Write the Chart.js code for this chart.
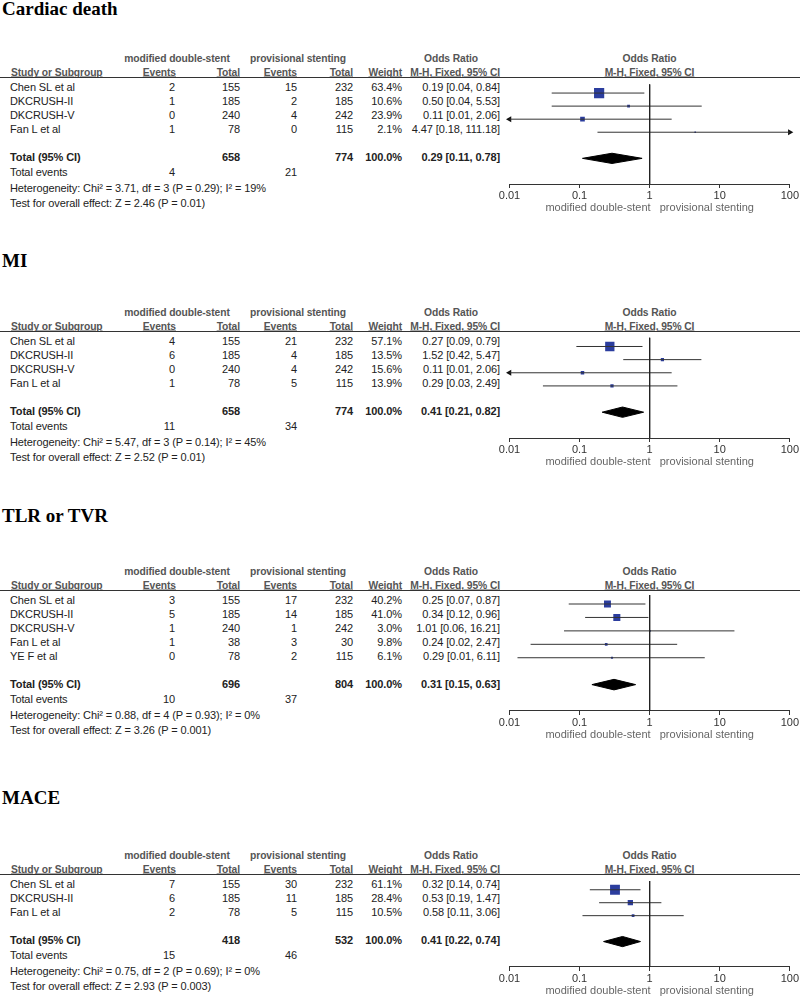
<!DOCTYPE html>
<html>
<head>
<meta charset="utf-8">
<script src="https://cdn.jsdelivr.net/npm/chart.js@4.4.0/dist/chart.umd.min.js"></script>
<style>
  html, body { margin: 0; padding: 0; background: #fff; }
  #page { position: relative; width: 800px; height: 997px; overflow: hidden;
          font-family: "Liberation Sans", Arial, sans-serif; font-size: 11px; color: #222; }
  .t { position: absolute; white-space: pre; line-height: 13px; letter-spacing: -0.1px; }
  .title { font-family: "Liberation Serif", "Times New Roman", serif; font-weight: bold;
           font-size: 19px; line-height: 22px; color: #000; letter-spacing: 0; }
  .hd { font-weight: bold; color: #555; font-size: 10.3px; }
  .u { text-decoration: underline; }
  .b { font-weight: bold; }
  .rule { position: absolute; left: 0; width: 800px; height: 1px; background: #333; }
  canvas { position: absolute; }
</style>
</head>
<body>
<div id="page"></div>
<script>
// ---- data ----
const oddsTicks = [0.01, 0.1, 1, 10, 100];

const cardiacStudies = ['Chen SL et al', 'DKCRUSH-II', 'DKCRUSH-V', 'Fan L et al'];
const cardiacEvents1 = [2, 1, 0, 1];
const cardiacTotal1 = [155, 185, 240, 78];
const cardiacEvents2 = [15, 2, 4, 0];
const cardiacTotal2 = [232, 185, 242, 115];
const cardiacWeight = [63.4, 10.6, 23.9, 2.1];
const cardiacOR = [0.19, 0.50, 0.11, 4.47];
const cardiacLow = [0.04, 0.04, 0.006, 0.18];
const cardiacHigh = [0.84, 5.53, 2.06, 111.18];
const cardiacPooled = [0.29, 0.11, 0.78];
const cardiacHet = 'Heterogeneity: Chi\u00b2 = 3.71, df = 3 (P = 0.29); I\u00b2 = 19%';
const cardiacTest = 'Test for overall effect: Z = 2.46 (P = 0.01)';

const miStudies = ['Chen SL et al', 'DKCRUSH-II', 'DKCRUSH-V', 'Fan L et al'];
const miEvents1 = [4, 6, 0, 1];
const miTotal1 = [155, 185, 240, 78];
const miEvents2 = [21, 4, 4, 5];
const miTotal2 = [232, 185, 242, 115];
const miWeight = [57.1, 13.5, 15.6, 13.9];
const miOR = [0.27, 1.52, 0.11, 0.29];
const miLow = [0.09, 0.42, 0.006, 0.03];
const miHigh = [0.79, 5.47, 2.06, 2.49];
const miPooled = [0.41, 0.21, 0.82];
const miHet = 'Heterogeneity: Chi\u00b2 = 5.47, df = 3 (P = 0.14); I\u00b2 = 45%';
const miTest = 'Test for overall effect: Z = 2.52 (P = 0.01)';

const tlrStudies = ['Chen SL et al', 'DKCRUSH-II', 'DKCRUSH-V', 'Fan L et al', 'YE F et al'];
const tlrEvents1 = [3, 5, 1, 1, 0];
const tlrTotal1 = [155, 185, 240, 38, 78];
const tlrEvents2 = [17, 14, 1, 3, 2];
const tlrTotal2 = [232, 185, 242, 30, 115];
const tlrWeight = [40.2, 41.0, 3.0, 9.8, 6.1];
const tlrOR = [0.25, 0.34, 1.01, 0.24, 0.29];
const tlrLow = [0.07, 0.12, 0.06, 0.02, 0.013];
const tlrHigh = [0.87, 0.96, 16.21, 2.47, 6.11];
const tlrPooled = [0.31, 0.15, 0.63];
const tlrHet = 'Heterogeneity: Chi\u00b2 = 0.88, df = 4 (P = 0.93); I\u00b2 = 0%';
const tlrTest = 'Test for overall effect: Z = 3.26 (P = 0.001)';

const maceStudies = ['Chen SL et al', 'DKCRUSH-II', 'Fan L et al'];
const maceEvents1 = [7, 6, 2];
const maceTotal1 = [155, 185, 78];
const maceEvents2 = [30, 11, 5];
const maceTotal2 = [232, 185, 115];
const maceWeight = [61.1, 28.4, 10.5];
const maceOR = [0.32, 0.53, 0.58];
const maceLow = [0.14, 0.19, 0.11];
const maceHigh = [0.74, 1.47, 3.06];
const macePooled = [0.41, 0.22, 0.74];
const maceHet = 'Heterogeneity: Chi\u00b2 = 0.75, df = 2 (P = 0.69); I\u00b2 = 0%';
const maceTest = 'Test for overall effect: Z = 2.93 (P = 0.003)';

const panels = [
  {title: 'Cardiac death', titleY: 9, lineY: 77, studies: cardiacStudies, ev1: cardiacEvents1, tot1: cardiacTotal1,
   ev2: cardiacEvents2, tot2: cardiacTotal2, weight: cardiacWeight, or: cardiacOR, lo: cardiacLow, hi: cardiacHigh,
   pooled: cardiacPooled, het: cardiacHet, test: cardiacTest},
  {title: 'MI', titleY: 261, lineY: 331, studies: miStudies, ev1: miEvents1, tot1: miTotal1,
   ev2: miEvents2, tot2: miTotal2, weight: miWeight, or: miOR, lo: miLow, hi: miHigh,
   pooled: miPooled, het: miHet, test: miTest},
  {title: 'TLR or TVR', titleY: 516, lineY: 590, studies: tlrStudies, ev1: tlrEvents1, tot1: tlrTotal1,
   ev2: tlrEvents2, tot2: tlrTotal2, weight: tlrWeight, or: tlrOR, lo: tlrLow, hi: tlrHigh,
   pooled: tlrPooled, het: tlrHet, test: tlrTest},
  {title: 'MACE', titleY: 798, lineY: 874, studies: maceStudies, ev1: maceEvents1, tot1: maceTotal1,
   ev2: maceEvents2, tot2: maceTotal2, weight: maceWeight, or: maceOR, lo: maceLow, hi: maceHigh,
   pooled: macePooled, het: maceHet, test: maceTest}
];

// ---- layout ----
const page = document.getElementById('page');
const ROW = 14;
const xMin = 0.01, xMax = 100;
const FONT = '"Liberation Sans", Arial, sans-serif';

function txt(s, x, y, align, cls) {
  const d = document.createElement('div');
  d.className = 't ' + (cls || '');
  d.textContent = s;
  d.style.left = x + 'px';
  d.style.top = y + 'px';
  const tx = align === 'right' ? '-100%' : align === 'center' ? '-50%' : '0';
  d.style.transform = 'translate(' + tx + ', -50%)';
  page.appendChild(d);
}

function ciText(or, lo, hi) {
  return or.toFixed(2) + ' [' + lo.toFixed(2) + ', ' + hi.toFixed(2) + ']';
}

function sum(arr) {
  return arr.reduce((a, b) => a + b, 0);
}

function drawPanel(p) {
  const n = p.studies.length;
  const L = p.lineY;

  txt(p.title, 2, p.titleY, 'left', 'title');

  // headers
  txt('modified double-stent', 177, L - 19, 'center', 'hd');
  txt('provisional stenting', 298, L - 19, 'center', 'hd');
  txt('Odds Ratio', 451, L - 19, 'center', 'hd');
  txt('Odds Ratio', 649.5, L - 19, 'center', 'hd');
  txt('Study or Subgroup', 11, L - 5, 'left', 'hd u');
  txt('Events', 176, L - 5, 'right', 'hd u');
  txt('Total', 240, L - 5, 'right', 'hd u');
  txt('Events', 297, L - 5, 'right', 'hd u');
  txt('Total', 353, L - 5, 'right', 'hd u');
  txt('Weight', 402, L - 5, 'right', 'hd u');
  txt('M-H, Fixed, 95% CI', 500, L - 5, 'right', 'hd u');
  txt('M-H, Fixed, 95% CI', 649.5, L - 5, 'center', 'hd u');

  const rule = document.createElement('div');
  rule.className = 'rule';
  rule.style.top = L + 'px';
  page.appendChild(rule);

  // study rows
  for (let i = 0; i < n; i++) {
    const y = L + 9.5 + ROW * i;
    txt(p.studies[i], 10, y, 'left');
    txt(String(p.ev1[i]), 175, y, 'right');
    txt(String(p.tot1[i]), 240, y, 'right');
    txt(String(p.ev2[i]), 297, y, 'right');
    txt(String(p.tot2[i]), 353, y, 'right');
    txt(p.weight[i].toFixed(1) + '%', 402, y, 'right');
    txt(ciText(p.or[i], p.lo[i], p.hi[i]), 500, y, 'right');
  }

  const totY = L + 9.5 + ROW * (n + 1);
  txt('Total (95% CI)', 10, totY, 'left', 'b');
  txt(String(sum(p.tot1)), 240, totY, 'right', 'b');
  txt(String(sum(p.tot2)), 353, totY, 'right', 'b');
  txt('100.0%', 402, totY, 'right', 'b');
  txt(ciText(p.pooled[0], p.pooled[1], p.pooled[2]), 500, totY, 'right', 'b');
  txt('Total events', 10, totY + 15.5, 'left');
  txt(String(sum(p.ev1)), 175, totY + 15.5, 'right');
  txt(String(sum(p.ev2)), 297, totY + 15.5, 'right');
  txt(p.het, 10, totY + 31, 'left');
  txt(p.test, 10, totY + 46.5, 'left');

  // chart (rows are y units)
  const yMin = -9.5 / ROW;
  const yMax = n + 1 + 27.5 / ROW;
  const plotH = Math.round((yMax - yMin) * ROW);
  const axisH = 33;
  const canvas = document.createElement('canvas');
  canvas.width = 320;
  canvas.height = plotH + axisH;
  canvas.style.left = '480px';
  canvas.style.top = L + 'px';
  page.appendChild(canvas);

  const datasets = [];
  // line of no effect
  datasets.push({
    data: [{x: 1, y: yMin}, {x: 1, y: yMax}],
    borderColor: '#222', borderWidth: 1, pointRadius: 0
  });
  // confidence intervals
  const arrows = [], arrowRot = [];
  for (let i = 0; i < n; i++) {
    datasets.push({
      data: [{x: Math.max(p.lo[i], xMin), y: i}, {x: Math.min(p.hi[i], xMax), y: i}],
      borderColor: '#333', borderWidth: 1, pointRadius: 0, clip: 10
    });
    if (p.lo[i] < xMin) { arrows.push({x: xMin, y: i}); arrowRot.push(-90); }
    if (p.hi[i] > xMax) { arrows.push({x: xMax, y: i}); arrowRot.push(90); }
  }
  datasets.push({
    data: arrows, showLine: false, pointStyle: 'triangle', pointRadius: 3.5,
    pointRotation: arrowRot, pointBackgroundColor: '#111', pointBorderColor: '#111',
    pointBorderWidth: 0, clip: 10
  });
  // study squares, size by weight
  datasets.push({
    data: p.or.map((v, i) => ({x: v, y: i})),
    showLine: false, pointStyle: 'rect',
    pointRadius: p.weight.map(w => (1.3 + 0.14 * w) / Math.SQRT2),
    pointBackgroundColor: '#2b3d9e', pointBorderWidth: 0, clip: 10
  });
  // pooled diamond
  const dy = n + 1, dh = 5.5 / ROW;
  datasets.push({
    data: [{x: p.pooled[1], y: dy}, {x: p.pooled[0], y: dy - dh}, {x: p.pooled[2], y: dy},
           {x: p.pooled[0], y: dy + dh}, {x: p.pooled[1], y: dy}],
    borderColor: '#000', backgroundColor: '#000', borderWidth: 1, pointRadius: 0, fill: 'shape'
  });

  new Chart(canvas.getContext('2d'), {
    type: 'line',
    data: {datasets: datasets},
    options: {
      responsive: false,
      animation: false,
      events: [],
      layout: {padding: {left: 29.5, right: 9.5, top: 0, bottom: 0}},
      plugins: {legend: {display: false}, tooltip: {enabled: false}},
      scales: {
        x: {
          type: 'logarithmic', position: 'bottom', min: xMin, max: xMax,
          afterBuildTicks: (scale) => { scale.ticks = oddsTicks.map(v => ({value: v})); },
          afterFit: (scale) => { scale.height = axisH; },
          ticks: {
            autoSkip: false, maxRotation: 0, padding: 1, color: '#333',
            font: {size: 11, family: FONT},
            callback: (v) => String(v)
          },
          grid: {drawOnChartArea: false, tickLength: 4, color: '#333'},
          border: {color: '#333'},
          title: {
            display: true, text: 'modified double-stent   provisional stenting',
            color: '#666', font: {size: 11, family: FONT}, padding: {top: 0, bottom: 2}
          }
        },
        y: {type: 'linear', reverse: true, min: yMin, max: yMax, display: false}
      }
    }
  });
}

panels.forEach(drawPanel);
</script>
</body>
</html>
